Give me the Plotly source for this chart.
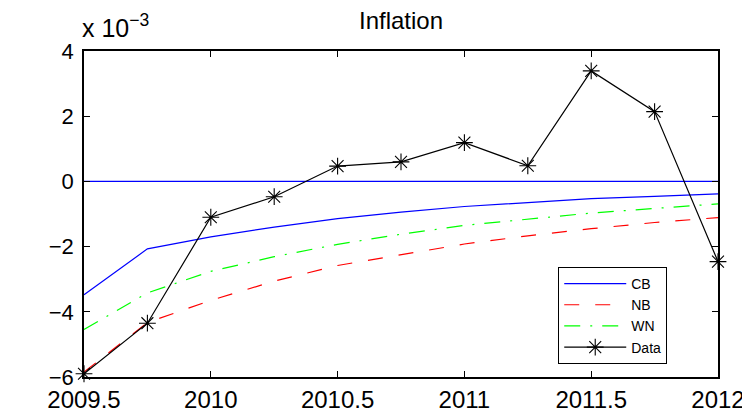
import plotly.graph_objects as go

# Quarterly time axis
quarters = [2009.5, 2009.75, 2010.0, 2010.25, 2010.5, 2010.75,
            2011.0, 2011.25, 2011.5, 2011.75, 2012.0]

# Series values in units of 1e-3
cb = [-3.48, -2.07, -1.70, -1.40, -1.14, -0.94, -0.77, -0.65, -0.53, -0.46, -0.38]
nb = [-5.85, -4.33, -3.65, -3.06, -2.58, -2.24, -1.92, -1.67, -1.45, -1.26, -1.11]
wn = [-4.54, -3.42, -2.76, -2.31, -1.93, -1.62, -1.35, -1.15, -0.97, -0.83, -0.69]
data = [-5.90, -4.35, -1.10, -0.47, 0.47, 0.60, 1.19, 0.48, 3.39, 2.14, -2.46]
zero_line = [0, 0, 0, 0, 0, 0, 0, 0, 0, 0, 0]

x_tickvals = [2009.5, 2010, 2010.5, 2011, 2011.5, 2012]
x_ticktext = ["2009.5", "2010", "2010.5", "2011", "2011.5", "2012"]
y_tickvals = [-6, -4, -2, 0, 2, 4]
y_ticktext = ["\u22126", "\u22124", "\u22122", "0", "2", "4"]

FONT = "Liberation Sans, Arial, sans-serif"

fig = go.Figure()
fig.add_trace(go.Scatter(x=quarters, y=zero_line, mode="lines",
                         line=dict(color="#0000FF", width=1.2),
                         showlegend=False, hoverinfo="skip"))
fig.add_trace(go.Scatter(x=quarters, y=cb, mode="lines", name="CB",
                         line=dict(color="#0000FF", width=1.2)))
fig.add_trace(go.Scatter(x=quarters, y=nb, mode="lines", name="NB",
                         line=dict(color="#FF0000", width=1.2, dash="15px,16px")))
fig.add_trace(go.Scatter(x=quarters, y=wn, mode="lines", name="WN",
                         line=dict(color="#00FF00", width=1.2,
                                   dash="16px,10px,2px,10px")))
fig.add_trace(go.Scatter(x=quarters, y=data, mode="lines+markers", name="Data",
                         line=dict(color="black", width=1.2),
                         marker=dict(symbol="asterisk-open", size=14,
                                     color="black",
                                     line=dict(color="black", width=1.1)),
                         cliponaxis=False))

fig.update_layout(
    width=750, height=414,
    margin=dict(l=76, r=40, t=43, b=45, autoexpand=False),
    paper_bgcolor="white", plot_bgcolor="white",
    font=dict(family=FONT, color="black", size=22),
    title=dict(text="Inflation", x=0.5, xref="paper", xanchor="center",
               y=1 - 4 / 414, yref="container", yanchor="top",
               font=dict(size=24, family=FONT, color="black")),
    showlegend=True,
    legend=dict(x=0.748, y=0.04, xanchor="left", yanchor="bottom",
                bgcolor="white", bordercolor="black", borderwidth=1,
                font=dict(size=14, family=FONT, color="black"),
                tracegroupgap=0, itemwidth=62),
    annotations=[dict(text="x 10<sup>\u22123</sup>", xref="paper", yref="paper",
                      x=-0.006, y=1.0, xanchor="left", yanchor="bottom",
                      yshift=7, showarrow=False,
                      font=dict(size=25, family=FONT, color="black"))],
)

fig.update_xaxes(range=[2009.5, 2012], tickvals=x_tickvals, ticktext=x_ticktext,
                 ticks="inside", ticklen=6, tickwidth=1, tickcolor="black",
                 showline=True, linecolor="black", linewidth=1.5, mirror="ticks",
                 showgrid=False, zeroline=False, automargin=False,
                 ticklabelstandoff=0,
                 tickfont=dict(size=24, family=FONT, color="black"))
fig.update_yaxes(range=[-6, 4], tickvals=y_tickvals, ticktext=y_ticktext,
                 ticks="inside", ticklen=6, tickwidth=1, tickcolor="black",
                 showline=True, linecolor="black", linewidth=1.5, mirror="ticks",
                 showgrid=False, zeroline=False, automargin=False,
                 ticklabelstandoff=4,
                 tickfont=dict(size=22, family=FONT, color="black"))

fig.write_html("out.html")
